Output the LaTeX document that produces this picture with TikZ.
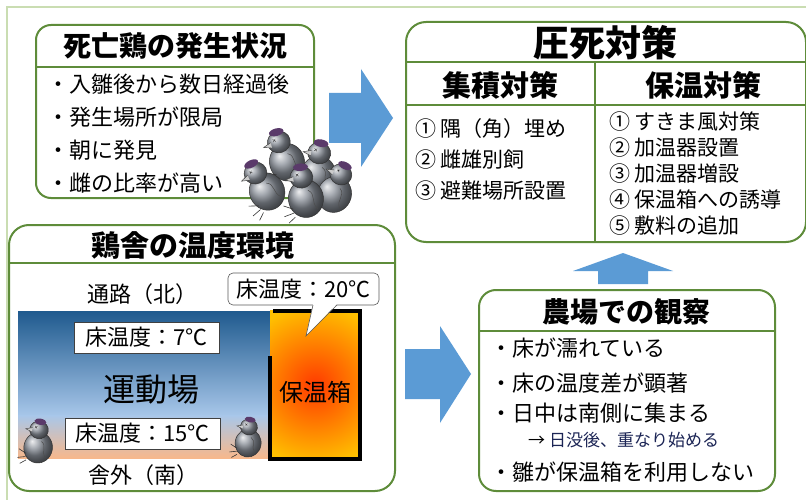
\documentclass[tikz,border=0pt]{standalone}
\usepackage{fontspec}
\setmainfont{Noto Sans CJK JP}
\usepackage{tikz}
\usetikzlibrary{positioning, calc}
\definecolor{panelgreen}{HTML}{5E8C3A}
\definecolor{framegreen}{HTML}{CADDB2}
\definecolor{arrowblue}{HTML}{5B9BD5}
\definecolor{yardtop}{HTML}{1F5A8E}
\definecolor{yardmid}{HTML}{A8C7EA}
\definecolor{yardlow}{HTML}{F7B88C}
\definecolor{boxorange}{HTML}{FFC000}
\definecolor{boxred}{HTML}{FF3A00}
\definecolor{chickgray}{HTML}{8A9099}
\definecolor{combpurple}{HTML}{5A3A6A}
\definecolor{notenavy}{HTML}{1C2555}

\begin{document}
\begin{tikzpicture}[x=1pt, y=-1pt,
    panel/.style={rectangle, rounded corners=#1, draw=panelgreen, line width=2pt, fill=white, inner sep=0pt},
    panel/.default=16pt,
    divider/.style={draw=panelgreen, line width=2pt},
    heading/.style={font=\fontsize{#1}{#1}\selectfont\bfseries, inner sep=0pt},
    items/.style 2 args={anchor=west, inner sep=0pt, align=left, font=\fontsize{#1}{#2}\selectfont},
    plain/.style={font=\fontsize{#1}{#1}\selectfont, inner sep=0pt},
    tag/.style={rectangle, draw=black!75, line width=0.6pt, fill=white, inner sep=0pt, minimum height=31pt, font=\fontsize{22}{22}\selectfont},
    blockarrow/.style={fill=arrowblue},
    chick/.pic={
      % body and head
      \shadedraw[ball color=chickgray, draw=black!80, line width=0.5pt] (1,5) ellipse (13 and 14);
      \shadedraw[ball color=chickgray, draw=black!80, line width=0.5pt] (-1,-11) ellipse (8.5 and 8);
      % comb, beak, eyes
      \fill[combpurple] (-1,-18.5) ellipse (5.5 and 2.8);
      \draw[black!80, line width=0.4pt, fill=gray!40] (-7,-12) -- (-13,-10) -- (-7,-8);
      \draw[black!80, line width=0.4pt] (-5,-14) -- (-3,-12) (-5,-12) -- (-3,-14);
      % wing and feet
      \draw[black!70, line width=0.5pt] (3,-1) .. controls (9,2) and (4,8) .. (9,13);
      \draw[black!80, line width=0.6pt] (-9,12) -- (-16,9) (-9,15) -- (-16,17) (-8,18) -- (-13,22);
    }
]
\useasboundingbox (0,0) rectangle (806,500);

% slide frame
\draw[framegreen, line width=1.5pt] (7,500) -- (7,7) -- (806,7);

% Situation
\node[panel=15pt, minimum width=278pt, minimum height=173pt] (situation) at (175,111.5) {};
\draw[divider] (situation.west |- 0,67) -- (situation.east |- 0,67);
\node[heading=28] (sithead) at (175,46) {死亡鶏の発生状況};
\node[items={22}{33}] (sitlist) at (47,133.5) {・入雛後から数日経過後\\・発生場所が限局\\・朝に発見\\・雌の比率が高い};

% Measures
\node[panel=20pt, minimum width=400pt, minimum height=220pt] (measures) at (606,132) {};
\draw[divider] (measures.west |- 0,62) -- (measures.east |- 0,62);
\draw[divider] (measures.west |- 0,105) -- (measures.east |- 0,105);
\draw[divider] (595,62) -- (measures.south -| 595,0);
\node[heading=36] (meashead) at (605,43) {圧死対策};
\node[heading=29] (pilehead) at (500,85) {集積対策};
\node[heading=29] (warmhead) at (703,85) {保温対策};
\node[items={21}{31}] (pilelist) at (415,159) {① 隅（角）埋め\\② 雌雄別飼\\③ 避難場所設置};
\node[items={21}{26}] (warmlist) at (609,174) {① すきま風対策\\② 加温器設置\\③ 加温器増設\\④ 保温箱への誘導\\⑤ 敷料の追加};

% House
\node[panel=20pt, minimum width=386pt, minimum height=266pt] (house) at (202,358) {};
\draw[divider] (house.west |- 0,263) -- (house.east |- 0,263);
\node[heading=29] (househead) at (193,245) {鶏舎の温度環境};
\shade[top color=yardtop, bottom color=yardmid] (18,311) rectangle (270,416);
\shade[top color=yardmid, bottom color=yardlow] (18,415) rectangle (270,458);
\begin{scope}
  \clip (270,310) rectangle (360,459);
  \fill[boxorange] (270,310) rectangle (360,459);
  \shade[inner color=boxred, outer color=boxorange] (315,385) circle (80);
\end{scope}
\draw[line width=4pt] (270,356) -- (270,459) -- (360,459) -- (360,311) -- (273,311);
\node[plain=22] (north) at (142,294) {通路（北）};
\node[plain=22] (south) at (143,475) {舎外（南）};
\node[plain=32] (yard) at (151,390) {運動場};
\node[plain=24] (brooder) at (315,392) {保温箱};
\node[tag, minimum width=145pt] (coldtag) at (146.5,337.5) {床温度：7℃};
\node[tag, minimum width=155pt] (warmtag) at (142.5,433.5) {床温度：15℃};
\node[tag, rounded corners=5pt, draw=black!65, minimum width=151pt, minimum height=32pt] (hottag) at (303.5,289) {床温度：20℃};
\fill[white] (313,303.8) -- (306,336) -- (337,303.8) -- cycle;
\draw[black!65, line width=0.6pt] (313,305) -- (306,336) -- (337,305);
\pic[scale=1.1, rotate=-10] at (38,442) {chick};
\pic[scale=1.0, rotate=-10] at (248,438) {chick};

% Observation
\node[panel=17pt, minimum width=296pt, minimum height=201pt] (observe) at (627,390.5) {};
\draw[divider] (observe.west |- 0,331) -- (observe.east |- 0,331);
\node[heading=28] (obshead) at (626,312) {農場での観察};
\node[items={22}{22}] (obs1) at (490,348) {・床が濡れている};
\node[items={22}{22}] (obs2) at (490,383) {・床の温度差が顕著};
\node[items={22}{22}] (obs3) at (490,413) {・日中は南側に集まる};
\node[items={17}{17}, text=black] (obs3b) at (528,440) {→ \textcolor{notenavy}{日没後、重なり始める}};
\node[items={22}{22}] (obs4) at (490,472) {・雛が保温箱を利用しない};

% block arrows
\fill[blockarrow] (329,93) -- (361,93) -- (361,69) -- (393,118) -- (361,167) -- (361,143) -- (329,143) -- cycle;
\fill[blockarrow] (405,349) -- (440,349) -- (440,326) -- (471,374) -- (440,423) -- (440,399) -- (405,399) -- cycle;
\fill[blockarrow] (598,284) -- (598,271) -- (573,271) -- (623,253) -- (673,271) -- (648,271) -- (648,284) -- cycle;

% pile of chicks
\pic[scale=1.35, rotate=15] at (284,156) {chick};
\pic[scale=1.35, rotate=-10] at (318,168) {chick};
\pic[scale=1.3, rotate=-25] at (336,188) {chick};
\pic[scale=1.35, rotate=5] at (304,192) {chick};
\pic[scale=1.35, rotate=25] at (263,186) {chick};

\end{tikzpicture}
\end{document}
